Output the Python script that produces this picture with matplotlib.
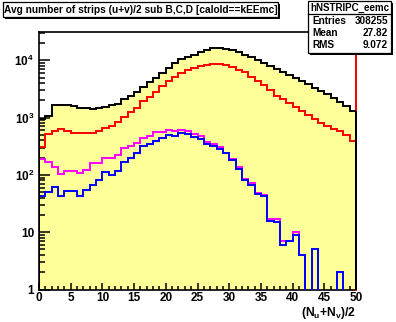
import numpy as np
import matplotlib
matplotlib.use('Agg')
import matplotlib.pyplot as plt
from matplotlib.patches import Rectangle
from matplotlib.lines import Line2D
from matplotlib.ticker import MultipleLocator, LogLocator, NullFormatter

# ---------------- data ----------------
bin_edges = np.arange(0, 51, 1)

total_counts = [950, 1050, 1680, 1680, 1680, 1575, 1445, 1445, 1395, 1445,
                1510, 1660, 1725, 2115, 2385, 2800, 3420, 4240, 4970, 6080,
                7430, 8850, 10400, 11560, 12530, 13800, 15130, 16220, 16220, 15740,
                15130, 13960, 12530, 11280, 10120, 8870, 8050, 7130, 6250, 5470,
                4850, 4300, 3810, 3330, 2950, 2550, 2170, 1890, 1610, 1300]

red_counts = [302, 511, 590, 625, 590, 532, 532, 532, 532, 584,
              667, 722, 828, 1010, 1250, 1450, 1950, 2320, 2830, 3560,
              4360, 5170, 6000, 6900, 7450, 7900, 8400, 8650, 8650, 8300,
              7730, 6770, 6180, 5170, 4360, 3710, 3030, 2380, 2110, 1780,
              1550, 1300, 1100, 960, 815, 713, 625, 590, 497, 395]

magenta_counts = [187, 170, 136, 104, 116, 116, 108, 122, 159, 159,
                  195, 195, 222, 291, 319, 356, 435, 478, 554, 554,
                  600, 577, 600, 577, 511, 472, 375, 351, 310, 244,
                  187, 136, 86, 71, 48, 45, 17, 17, 7, 7,
                  10, 4, 0, 5, 0, 0, 0, 2, 0, 0]

blue_counts = [42, 50, 62, 42, 52, 52, 43, 55, 67, 82,
               111, 98, 117, 170, 195, 238, 315, 342, 395, 435,
               491, 472, 532, 511, 453, 428, 342, 319, 287, 238,
               180, 125, 81, 66, 46, 43, 16, 15, 6, 7,
               9, 4, 0, 5, 0, 0, 0, 2, 0, 0]

title_text = "Avg number of strips (u+v)/2 sub B,C,D [caloId==kEEmc]"
stats_name = "hNSTRIPC_eemc"
stats_labels = ["Entries", "Mean", "RMS"]
stats_values = ["308255", "27.82", "9.072"]
x_tick_values = [0, 5, 10, 15, 20, 25, 30, 35, 40, 45, 50]
y_tick_values = [1, 10, 100, 1000, 10000]
y_tick_labels = ["1", "10", r"$10^{2}$", r"$10^{3}$", r"$10^{4}$"]
x_label = r"(N$_{u}$+N$_{v}$)/2"

# ---------------- style ----------------
plt.rcParams['font.family'] = ['Liberation Sans', 'DejaVu Sans']
plt.rcParams['font.weight'] = 'bold'
plt.rcParams['mathtext.fontset'] = 'custom'
plt.rcParams['mathtext.rm'] = 'Liberation Sans:bold'
plt.rcParams['mathtext.bf'] = 'Liberation Sans:bold'
plt.rcParams['mathtext.it'] = 'Liberation Sans:bold'
plt.rcParams['mathtext.default'] = 'rm'

W, H = 396, 322
fig = plt.figure(figsize=(W / 100, H / 100), dpi=100, facecolor='white')

def fx(px):
    return px / W

def fy(py):
    return 1 - py / H

ax = fig.add_axes([fx(39), fy(289.5), (356 - 39) / W, (289.5 - 32) / H])
ax.set_yscale('log')
ax.set_xlim(0, 50)
ax.set_ylim(1, 3.12e4)
ax.set_facecolor('white')

floor = 0.3
edges = bin_edges
tot = np.clip(np.array(total_counts, float), floor, None)
red = np.clip(np.array(red_counts, float), floor, None)
mag = np.clip(np.array(magenta_counts, float), floor, None)
blu = np.clip(np.array(blue_counts, float), floor, None)

lw = 1.4
ax.stairs(tot, edges, fill=True, color='#ffff99', baseline=floor, zorder=1)
ax.stairs(red, edges, color='#ff0000', lw=lw, baseline=floor, zorder=3)
ax.stairs(mag, edges, color='#ff00ff', lw=lw, baseline=floor, zorder=3.1)
ax.stairs(blu, edges, color='#0000ff', lw=lw, baseline=floor, zorder=3.2)
# red line drawn along the right edge (as in the reference)
ax.plot([edges[-1], edges[-1]], [0, 1], transform=ax.get_xaxis_transform(), color='#ff0000',
        lw=lw, clip_on=False, zorder=3.5)
ax.stairs(tot, edges, color='black', lw=lw, baseline=floor, zorder=4)
# black closing edge of the total histogram at the upper limit
ax.vlines(edges[-1], 1, total_counts[-1], color='black', lw=lw, clip_on=False, zorder=4.1)

for s in ax.spines.values():
    s.set_linewidth(1.2)

ax.set_xticks(x_tick_values)
ax.set_xticklabels([str(v) for v in x_tick_values], fontsize=8.5, fontweight='bold')
ax.xaxis.set_minor_locator(MultipleLocator(1))
ax.set_yticks(y_tick_values)
ax.set_yticklabels(y_tick_labels, fontsize=8.5, fontweight='bold')
ax.yaxis.set_minor_locator(LogLocator(base=10, subs=np.arange(2, 10)))
ax.yaxis.set_minor_formatter(NullFormatter())

ax.tick_params(which='both', direction='in', top=False, right=False, width=1.1, colors='black')
ax.tick_params(axis='x', which='major', length=5.3, pad=2)
ax.tick_params(axis='x', which='minor', length=2.9)
ax.tick_params(axis='y', which='major', length=7.7, pad=3.5)
ax.tick_params(axis='y', which='minor', length=4.1)

fig.text(fx(356), fy(305), x_label, ha='right', va='top', fontsize=8.7, fontweight='bold')

# ---------------- title box ----------------
def box(x0, y0, x1, y1, shadow=2):
    fig.add_artist(Rectangle((fx(x0 + shadow), fy(y1 + shadow)), (x1 - x0) / W, (y1 - y0) / H,
                             transform=fig.transFigure, fc='black', ec='none', zorder=10))
    fig.add_artist(Rectangle((fx(x0), fy(y1)), (x1 - x0) / W, (y1 - y0) / H,
                             transform=fig.transFigure, fc='white', ec='black', lw=0.9, zorder=11))

box(3, 2, 278, 17)
fig.text(fx(140.5), fy(9.8), title_text, ha='center', va='center', fontsize=7.3,
         fontweight='bold', zorder=12)

# ---------------- stats box ----------------
box(308, 1, 391, 53)
fig.add_artist(Line2D([fx(308), fx(391)], [fy(14), fy(14)], transform=fig.transFigure,
                      color='black', lw=0.9, zorder=12))
fig.text(fx(349.5), fy(7.8), stats_name, ha='center', va='center', fontsize=7.0,
         fontweight='bold', zorder=12)
row_y = [21.5, 33.5, 45.5]
for lab, val, yy in zip(stats_labels, stats_values, row_y):
    fig.text(fx(312), fy(yy), lab, ha='left', va='center', fontsize=7.2, fontweight='bold', zorder=12)
    fig.text(fx(388), fy(yy), val, ha='right', va='center', fontsize=7.2, fontweight='bold', zorder=12)

fig.savefig('out.png', dpi=100, facecolor='white')
